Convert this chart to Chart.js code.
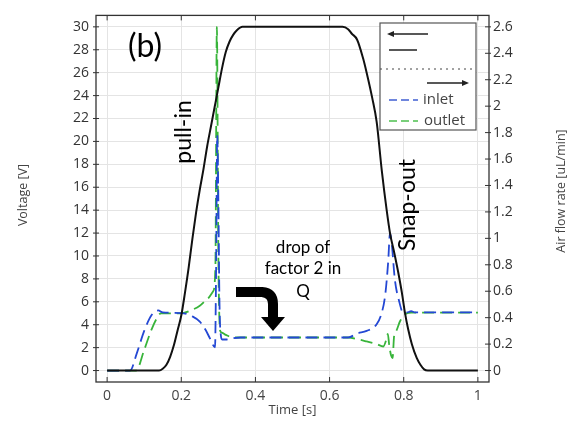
<!DOCTYPE html>
<html>
<head>
<meta charset="utf-8">
<script src="https://cdn.jsdelivr.net/npm/chart.js@4.4.1/dist/chart.umd.min.js"></script>
<style>
  html, body { margin: 0; padding: 0; background: #fff; }
  #wrap { width: 570px; height: 423px; position: relative; }
</style>
</head>
<body>
<div id="wrap"><canvas id="chart"></canvas></div>
<script>
// ------------------------
// DATA
// ------------------------

// applied voltage [V] vs time [s]
const voltageTime = [0, 0.14, 0.15, 0.16, 0.17, 0.18, 0.19, 0.2, 0.21, 0.22, 0.23, 0.24, 0.25, 0.26, 0.27, 0.28, 0.29, 0.3, 0.31, 0.32, 0.33, 0.34, 0.35, 0.365,
  0.635, 0.65, 0.66, 0.674, 0.69, 0.7, 0.715, 0.727, 0.741, 0.754, 0.763, 0.775, 0.785, 0.795, 0.803, 0.812, 0.822, 0.835, 0.845, 0.855, 0.865, 1]
const voltageValues = [0, 0, 0.15, 0.5, 1.2, 2.2, 3.5, 4.8, 6.8, 9, 11.5, 13.8, 15.8, 17.6, 19.6, 21.3, 23, 24.7, 26.4, 27.8, 28.7, 29.3, 29.7, 30,
  30, 29.8, 29.4, 28.9, 27.3, 26, 23.8, 21.7, 17.4, 14, 12, 10.2, 8.6, 6.8, 5.1, 3.6, 2.3, 1.1, 0.5, 0.1, 0, 0]

// inlet air flow [uL/min]
const inletTime = [0, 0.062, 0.08, 0.1, 0.12, 0.138, 0.15, 0.2, 0.23, 0.25, 0.265, 0.278, 0.291, 0.294, 0.297, 0.3, 0.303, 0.307, 0.31, 0.32, 0.34, 0.36,
  0.65, 0.674, 0.7, 0.727, 0.74, 0.75, 0.758, 0.763, 0.768, 0.776, 0.788, 0.798, 0.81, 0.82, 0.83, 1]
const inletFlow = [0, 0, 0.13, 0.3, 0.42, 0.455, 0.44, 0.435, 0.41, 0.37, 0.31, 0.24, 0.175, 0.78, 1.78, 1.3, 0.52, 0.26, 0.235, 0.235, 0.245, 0.25,
  0.25, 0.28, 0.3, 0.35, 0.43, 0.57, 0.82, 1.04, 0.95, 0.69, 0.52, 0.44, 0.44, 0.45, 0.44, 0.44]

// outlet air flow [uL/min]
const outletTime = [0, 0.078, 0.1, 0.12, 0.135, 0.145, 0.2, 0.23, 0.25, 0.27, 0.286, 0.292, 0.296, 0.3, 0.305, 0.31, 0.32, 0.34,
  0.65, 0.68, 0.7, 0.727, 0.745, 0.752, 0.757, 0.761, 0.766, 0.77, 0.774, 0.78, 0.79, 0.8, 0.808, 0.82, 1]
const outletFlow = [0, 0, 0.156, 0.312, 0.4, 0.433, 0.433, 0.46, 0.49, 0.54, 0.6, 0.78, 2.6, 0.87, 0.3, 0.286, 0.27, 0.25,
  0.25, 0.234, 0.22, 0.2, 0.182, 0.225, 0.277, 0.19, 0.113, 0.095, 0.26, 0.3, 0.373, 0.416, 0.433, 0.438, 0.438]

// tick labels
const timeTicks = [0, 0.2, 0.4, 0.6, 0.8, 1]
const voltageTicks = [0, 2, 4, 6, 8, 10, 12, 14, 16, 18, 20, 22, 24, 26, 28, 30]
const flowTicks = [0, 0.2, 0.4, 0.6, 0.8, 1, 1.2, 1.4, 1.6, 1.8, 2, 2.2, 2.4, 2.6]

// ------------------------
// HELPERS
// ------------------------

const toPoints = (xs, ys) => xs.map((x, i) => ({ x: x, y: ys[i] }))
const setTicks = (values) => (scale) => { scale.ticks = values.map(v => ({ value: v })) }
const shortNumber = (v) => String(Number(v.toFixed(1)))

const blue = '#2448d4'
const green = '#38b43a'
const tickFont = { family: 'Open Sans', size: 14 }

// ------------------------
// EXTRA DRAWING (frame, titles, notes, legend)
// ------------------------

const decorations = {
  id: 'decorations',
  afterDraw(chart) {
    const ctx = chart.ctx
    const a = chart.chartArea
    const xs = chart.scales.x, ys = chart.scales.y, ys1 = chart.scales.y1
    ctx.save()

    // frame
    ctx.strokeStyle = '#333'
    ctx.lineWidth = 1.3
    ctx.strokeRect(a.left, a.top, a.right - a.left, a.bottom - a.top)

    // small tick marks
    ctx.lineWidth = 1
    ctx.beginPath()
    timeTicks.forEach(t => {
      const px = xs.getPixelForValue(t)
      ctx.moveTo(px, a.bottom); ctx.lineTo(px, a.bottom - 5)
      ctx.moveTo(px, a.top); ctx.lineTo(px, a.top + 5)
    })
    voltageTicks.forEach(v => {
      const py = ys.getPixelForValue(v)
      ctx.moveTo(a.left - 3, py); ctx.lineTo(a.left + 3, py)
    })
    flowTicks.forEach(v => {
      const py = ys1.getPixelForValue(v)
      ctx.moveTo(a.right - 4, py); ctx.lineTo(a.right + 2, py)
    })
    ctx.stroke()

    // axis titles
    ctx.fillStyle = '#444'
    ctx.font = '13px "Open Sans"'
    ctx.textAlign = 'center'
    ctx.textBaseline = 'middle'
    ctx.fillText('Time [s]', (a.left + a.right) / 2, 410)
    const rotText = (txt, x, y) => {
      ctx.save(); ctx.translate(x, y); ctx.rotate(-Math.PI / 2); ctx.fillText(txt, 0, 0); ctx.restore()
    }
    ctx.font = '12.5px "Open Sans"'
    rotText('Voltage [V]', 23, 195)
    rotText('Air flow rate [uL/min]', 561, 191)

    // notes
    ctx.fillStyle = '#000'
    ctx.font = '32px Lato'
    ctx.fillText('(b)', 145, 47)
    ctx.font = '23px Lato'
    rotText('pull-in', 184, 132)
    rotText('Snap-out', 408, 205)
    ctx.font = '17px Lato'
    ctx.fillText('drop of', 303, 248)
    ctx.fillText('factor 2 in', 303, 269)
    ctx.fillText('Q', 303, 292)

    // bent arrow
    ctx.strokeStyle = '#000'
    ctx.lineWidth = 10
    ctx.beginPath()
    ctx.moveTo(236, 292)
    ctx.lineTo(262, 292)
    ctx.quadraticCurveTo(273, 293, 273, 304)
    ctx.lineTo(273, 318)
    ctx.stroke()
    ctx.beginPath()
    ctx.moveTo(261, 317); ctx.lineTo(285, 317); ctx.lineTo(273, 331); ctx.closePath()
    ctx.fill()

    // legend box
    const bx = 380, by = 23, bw = 96, bh = 107
    ctx.fillStyle = '#fff'
    ctx.fillRect(bx, by, bw, bh)
    ctx.strokeStyle = '#555'
    ctx.lineWidth = 1.2
    ctx.strokeRect(bx, by, bw, bh)

    ctx.strokeStyle = '#222'
    ctx.lineWidth = 1.3
    ctx.beginPath()
    ctx.moveTo(389, 34); ctx.lineTo(428, 34)
    ctx.moveTo(389, 50); ctx.lineTo(417, 50)
    ctx.moveTo(427, 83); ctx.lineTo(465, 83)
    ctx.stroke()
    ctx.fillStyle = '#222'
    ctx.beginPath(); ctx.moveTo(387, 34); ctx.lineTo(394, 31); ctx.lineTo(394, 37); ctx.closePath(); ctx.fill()
    ctx.beginPath(); ctx.moveTo(469, 83); ctx.lineTo(462, 80); ctx.lineTo(462, 86); ctx.closePath(); ctx.fill()

    ctx.lineWidth = 1
    ctx.strokeStyle = '#444'
    ctx.setLineDash([2, 4])
    ctx.beginPath(); ctx.moveTo(bx, 69); ctx.lineTo(bx + bw, 69); ctx.stroke()

    ctx.setLineDash([8, 4])
    ctx.lineWidth = 1.8
    ctx.strokeStyle = '#6f86dd'
    ctx.beginPath(); ctx.moveTo(389, 100); ctx.lineTo(418, 100); ctx.stroke()
    ctx.strokeStyle = '#79cf7a'
    ctx.beginPath(); ctx.moveTo(389, 121); ctx.lineTo(418, 121); ctx.stroke()
    ctx.setLineDash([])

    ctx.fillStyle = '#444'
    ctx.font = '15px "Open Sans"'
    ctx.textAlign = 'left'
    ctx.fillText('inlet', 423, 100)
    ctx.fillText('outlet', 424, 121)

    ctx.restore()
  }
}

// ------------------------
// CHART
// ------------------------

const chart = new Chart(document.querySelector('#chart'), {
  type: 'line',
  data: {
    datasets: [
      {
        label: 'voltage',
        data: toPoints(voltageTime, voltageValues),
        yAxisID: 'y',
        borderColor: '#111',
        borderWidth: 2,
        pointRadius: 0,
        cubicInterpolationMode: 'monotone'
      },
      {
        label: 'inlet',
        data: toPoints(inletTime, inletFlow),
        yAxisID: 'y1',
        borderColor: blue,
        borderWidth: 1.8,
        borderDash: [12, 6],
        pointRadius: 0,
        cubicInterpolationMode: 'monotone'
      },
      {
        label: 'outlet',
        data: toPoints(outletTime, outletFlow),
        yAxisID: 'y1',
        borderColor: green,
        borderWidth: 1.8,
        borderDash: [12, 6],
        pointRadius: 0,
        cubicInterpolationMode: 'monotone'
      }
    ]
  },
  options: {
    responsive: true,
    maintainAspectRatio: false,
    animation: false,
    layout: { padding: { top: 8, left: 0, right: 0, bottom: 0 } },
    plugins: {
      legend: { display: false },
      tooltip: { enabled: false }
    },
    scales: {
      x: {
        type: 'linear',
        min: -0.03,
        max: 1.03,
        afterBuildTicks: setTicks(timeTicks),
        afterFit: (s) => { s.height = 41 },
        grid: { color: '#e4e4e4', drawTicks: false },
        border: { display: false },
        ticks: { color: '#444', font: tickFont, padding: 6, maxRotation: 0, callback: shortNumber }
      },
      y: {
        position: 'left',
        min: -1,
        max: 31,
        afterBuildTicks: setTicks(voltageTicks),
        afterFit: (s) => { s.width = 96 },
        grid: { color: '#e4e4e4', drawTicks: false },
        border: { display: false },
        ticks: { color: '#333', font: tickFont, padding: 7 }
      },
      y1: {
        position: 'right',
        min: -1 * 2.6 / 30,
        max: 31 * 2.6 / 30,
        afterBuildTicks: setTicks(flowTicks),
        afterFit: (s) => { s.width = 81 },
        grid: { display: false, drawTicks: false },
        border: { display: false },
        ticks: { color: '#333', font: tickFont, padding: 4, callback: shortNumber }
      }
    }
  },
  plugins: [decorations]
})
</script>
</body>
</html>
